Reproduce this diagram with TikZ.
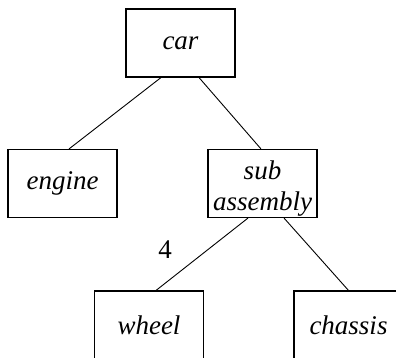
\documentclass[tikz,border=0pt]{standalone}
\usepackage{fontspec}
\setmainfont{Liberation Serif}
\usetikzlibrary{positioning}
\begin{document}
\begin{tikzpicture}[x=1pt,y=-1pt,
  box/.style={draw, line width=1.1pt, minimum width=109pt, minimum height=68pt, inner sep=0pt, align=center,
    font=\fontsize{27}{31}\selectfont\itshape},
  link/.style={line width=0.9pt},
  lbl/.style={inner sep=0pt, font=\fontsize{27}{31}\selectfont}]
\useasboundingbox (0,0) rectangle (396,358);
\clip (0,0) rectangle (396,358);
\node[box] (car) at (180.5,43) {car};
\node[box] (engine) at (62.5,183.5) {engine};
\node[box] (sub) at (262.5,183.5) {\rule{0pt}{28pt}sub\\assembly};
\node[box] (wheel) at (149,325) {wheel};
\node[box] (chassis) at (348.5,325) {chassis};
\node[lbl] (four) at (165,250) {4};
\draw[link] ([xshift=-19.5pt]car.south) -- ([xshift=6.5pt]engine.north);
\draw[link] ([xshift=18.5pt]car.south) -- ([xshift=-1.5pt]sub.north);
\draw[link] ([xshift=-14.5pt]sub.south) -- ([xshift=7pt]wheel.north);
\draw[link] ([xshift=21.5pt]sub.south) -- (chassis.north);
\end{tikzpicture}
\end{document}
